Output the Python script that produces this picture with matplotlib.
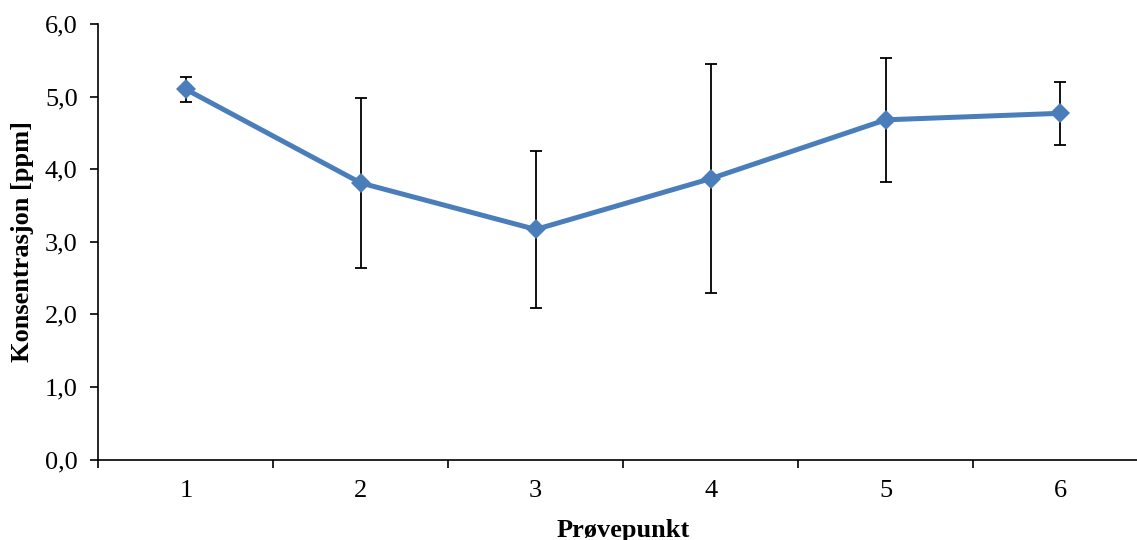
import matplotlib.pyplot as plt
from matplotlib.ticker import FixedLocator, FuncFormatter

# Måleverdier per prøvepunkt
points = [1, 2, 3, 4, 5, 6]
concentration = [5.10, 3.81, 3.17, 3.87, 4.68, 4.77]
std_dev = [0.175, 1.165, 1.08, 1.575, 0.855, 0.435]
y_ticks = [0, 1, 2, 3, 4, 5, 6]

plt.rcParams['font.family'] = ['Liberation Serif', 'DejaVu Serif']

fig = plt.figure(figsize=(11.37, 5.40), dpi=100)
ax = fig.add_axes([0.0866, 0.149, 0.923, 0.8065])

# error bars under the line and markers
ax.errorbar(points, concentration, yerr=std_dev, fmt="none", ecolor="black",
            elinewidth=1.3, capsize=4.5, capthick=1.3, zorder=2)
ax.plot(points, concentration, color="#4A7EBB", linewidth=3.6, marker="D",
        markersize=10.5, markeredgewidth=0, zorder=3)

ax.set_xlim(0.5, 6.5)
ax.set_ylim(0, 6)

# Excel-style category axis: ticks between categories, labels at centres
ax.xaxis.set_major_locator(FixedLocator([p - 0.5 for p in points] + [points[-1] + 0.5]))
ax.xaxis.set_major_formatter(FuncFormatter(lambda v, pos: ""))
ax.xaxis.set_minor_locator(FixedLocator(points))
ax.xaxis.set_minor_formatter(FuncFormatter(lambda v, pos: "%d" % round(v)))
ax.tick_params(axis="x", which="major", direction="out", length=6, width=1.2, color="black")
ax.tick_params(axis="x", which="minor", length=0, pad=15, labelsize=19)

ax.set_yticks(y_ticks)
ax.yaxis.set_major_formatter(FuncFormatter(lambda v, pos: ("%.1f" % v).replace(".", ",")))
ax.tick_params(axis="y", direction="out", length=6, width=1.2, color="black", labelsize=19, pad=9)

for side in ["top", "right"]:
    ax.spines[side].set_visible(False)
for side in ["left", "bottom"]:
    ax.spines[side].set_linewidth(1.2)
    ax.spines[side].set_color("black")

ax.set_xlabel("Prøvepunkt", fontsize=19, fontweight="bold", labelpad=12)
ax.set_ylabel("Konsentrasjon [ppm]", fontsize=19, fontweight="bold", labelpad=8)

fig.savefig("out.png", dpi=100)
